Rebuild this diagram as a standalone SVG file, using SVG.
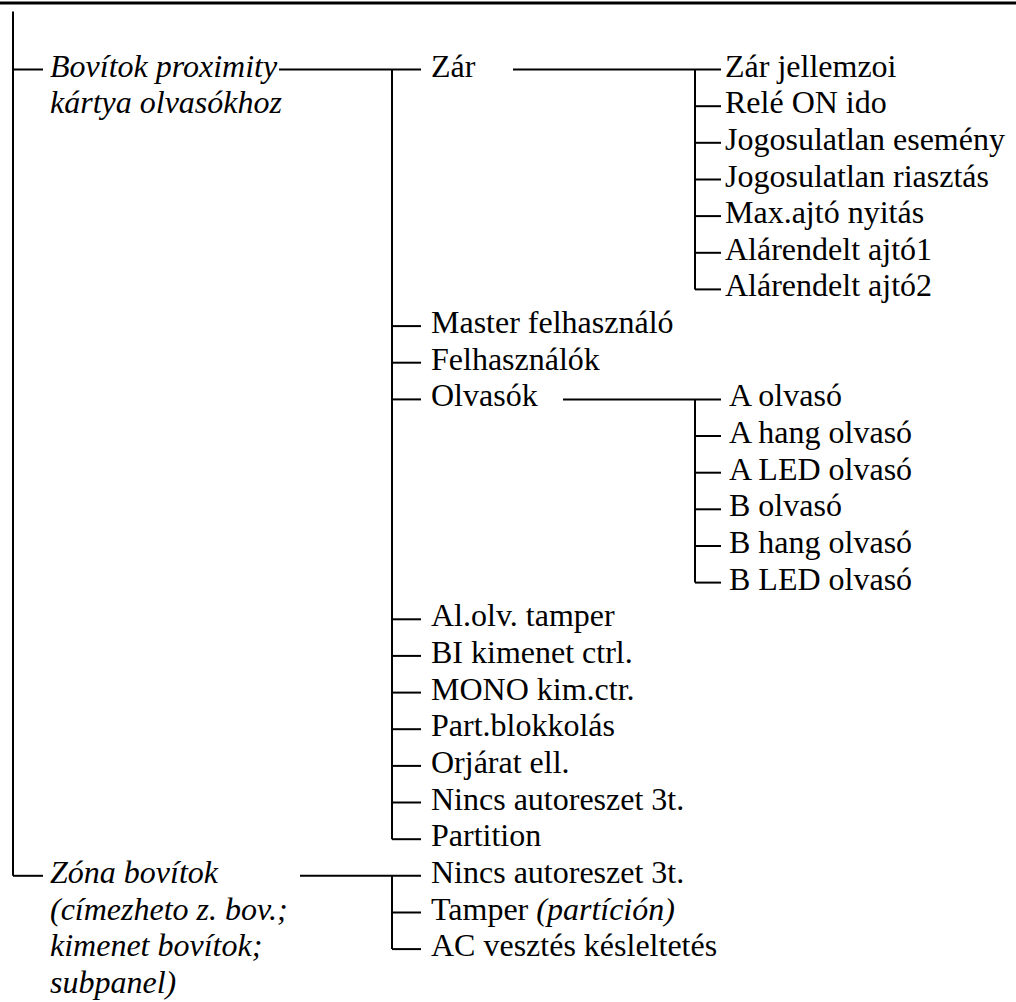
<svg xmlns="http://www.w3.org/2000/svg" width="1016" height="1002" viewBox="0 0 1016 1002">
<style>
text{font-family:"Liberation Serif","Times New Roman",serif;font-size:32px;fill:#000}
.it{font-style:italic}
.c line,.c polyline{stroke:#000;stroke-width:2;fill:none}
</style>
<rect width="1016" height="1002" fill="#fff"/>
<line x1="0" y1="3" x2="1016" y2="3" stroke="#000" stroke-width="3"/>
<g id="connectors" class="c">
<line x1="13" y1="11.5" x2="13" y2="875.8"/>
<line x1="13" y1="69.5" x2="43" y2="69.5"/>
<line x1="13" y1="875.8" x2="43" y2="875.8"/>
<line x1="279" y1="69.5" x2="421" y2="69.5"/>
<line x1="300" y1="875.8" x2="421" y2="875.8"/>
<line x1="392" y1="69.5" x2="392" y2="839.2"/>
<line x1="392" y1="875.8" x2="392" y2="949.1"/>
<line x1="392" y1="326.1" x2="421" y2="326.1"/>
<line x1="392" y1="362.7" x2="421" y2="362.7"/>
<line x1="392" y1="399.4" x2="421" y2="399.4"/>
<line x1="392" y1="619.3" x2="421" y2="619.3"/>
<line x1="392" y1="655.9" x2="421" y2="655.9"/>
<line x1="392" y1="692.6" x2="421" y2="692.6"/>
<line x1="392" y1="729.2" x2="421" y2="729.2"/>
<line x1="392" y1="765.9" x2="421" y2="765.9"/>
<line x1="392" y1="802.5" x2="421" y2="802.5"/>
<line x1="392" y1="839.2" x2="421" y2="839.2"/>
<line x1="392" y1="912.5" x2="421" y2="912.5"/>
<line x1="392" y1="949.1" x2="421" y2="949.1"/>
<line x1="513" y1="69.5" x2="721" y2="69.5"/>
<line x1="695" y1="69.5" x2="695" y2="289.4"/>
<line x1="695" y1="106.2" x2="721" y2="106.2"/>
<line x1="695" y1="142.8" x2="721" y2="142.8"/>
<line x1="695" y1="179.5" x2="721" y2="179.5"/>
<line x1="695" y1="216.1" x2="721" y2="216.1"/>
<line x1="695" y1="252.8" x2="721" y2="252.8"/>
<line x1="695" y1="289.4" x2="721" y2="289.4"/>
<line x1="563" y1="399.4" x2="721" y2="399.4"/>
<line x1="695" y1="399.4" x2="695" y2="582.6"/>
<line x1="695" y1="436" x2="721" y2="436"/>
<line x1="695" y1="472.7" x2="721" y2="472.7"/>
<line x1="695" y1="509.3" x2="721" y2="509.3"/>
<line x1="695" y1="546" x2="721" y2="546"/>
<line x1="695" y1="582.6" x2="721" y2="582.6"/>
</g>
<g id="n-bovitok"><text class="it" x="50" y="76.5">Bovítok proximity</text><text class="it" x="50" y="113.2">kártya olvasókhoz</text></g>
<g id="n-zona"><text class="it" x="50" y="882.8">Zóna bovítok</text><text class="it" x="50" y="919.5">(címezheto z. bov.;</text><text class="it" x="50" y="956.1">kimenet bovítok;</text><text class="it" x="50" y="992.8">subpanel)</text></g>
<g id="n-zar"><text x="431" y="76.5">Zár</text></g>
<g id="n-master"><text x="431" y="333.1">Master felhasználó</text></g>
<g id="n-felh"><text x="431" y="369.7">Felhasználók</text></g>
<g id="n-olvasok"><text x="431" y="406.4">Olvasók</text></g>
<g id="n-alolv"><text x="431" y="626.3">Al.olv. tamper</text></g>
<g id="n-bi"><text x="431" y="662.9">BI kimenet ctrl.</text></g>
<g id="n-mono"><text x="431" y="699.6">MONO kim.ctr.</text></g>
<g id="n-part"><text x="431" y="736.2">Part.blokkolás</text></g>
<g id="n-orj"><text x="431" y="772.9">Orjárat ell.</text></g>
<g id="n-nincs1"><text x="431" y="809.5">Nincs autoreszet 3t.</text></g>
<g id="n-partition"><text x="431" y="846.2">Partition</text></g>
<g id="n-nincs2"><text x="431" y="882.8">Nincs autoreszet 3t.</text></g>
<g id="n-tamper"><text x="431" y="919.5">Tamper <tspan class="it">(partíción)</tspan></text></g>
<g id="n-ac"><text x="431" y="956.1">AC vesztés késleltetés</text></g>
<g id="n-zarj"><text x="725" y="76.5">Zár jellemzoi</text></g>
<g id="n-rele"><text x="725" y="113.2">Relé ON ido</text></g>
<g id="n-jogese"><text x="725" y="149.8">Jogosulatlan esemény</text></g>
<g id="n-jogria"><text x="725" y="186.5">Jogosulatlan riasztás</text></g>
<g id="n-max"><text x="725" y="223.1">Max.ajtó nyitás</text></g>
<g id="n-alar1"><text x="725" y="259.8">Alárendelt ajtó1</text></g>
<g id="n-alar2"><text x="725" y="296.4">Alárendelt ajtó2</text></g>
<g id="n-aolv"><text x="729" y="406.4">A olvasó</text></g>
<g id="n-ahang"><text x="729" y="443">A hang olvasó</text></g>
<g id="n-aled"><text x="729" y="479.7">A LED olvasó</text></g>
<g id="n-bolv"><text x="729" y="516.3">B olvasó</text></g>
<g id="n-bhang"><text x="729" y="553">B hang olvasó</text></g>
<g id="n-bled"><text x="729" y="589.6">B LED olvasó</text></g>
</svg>
